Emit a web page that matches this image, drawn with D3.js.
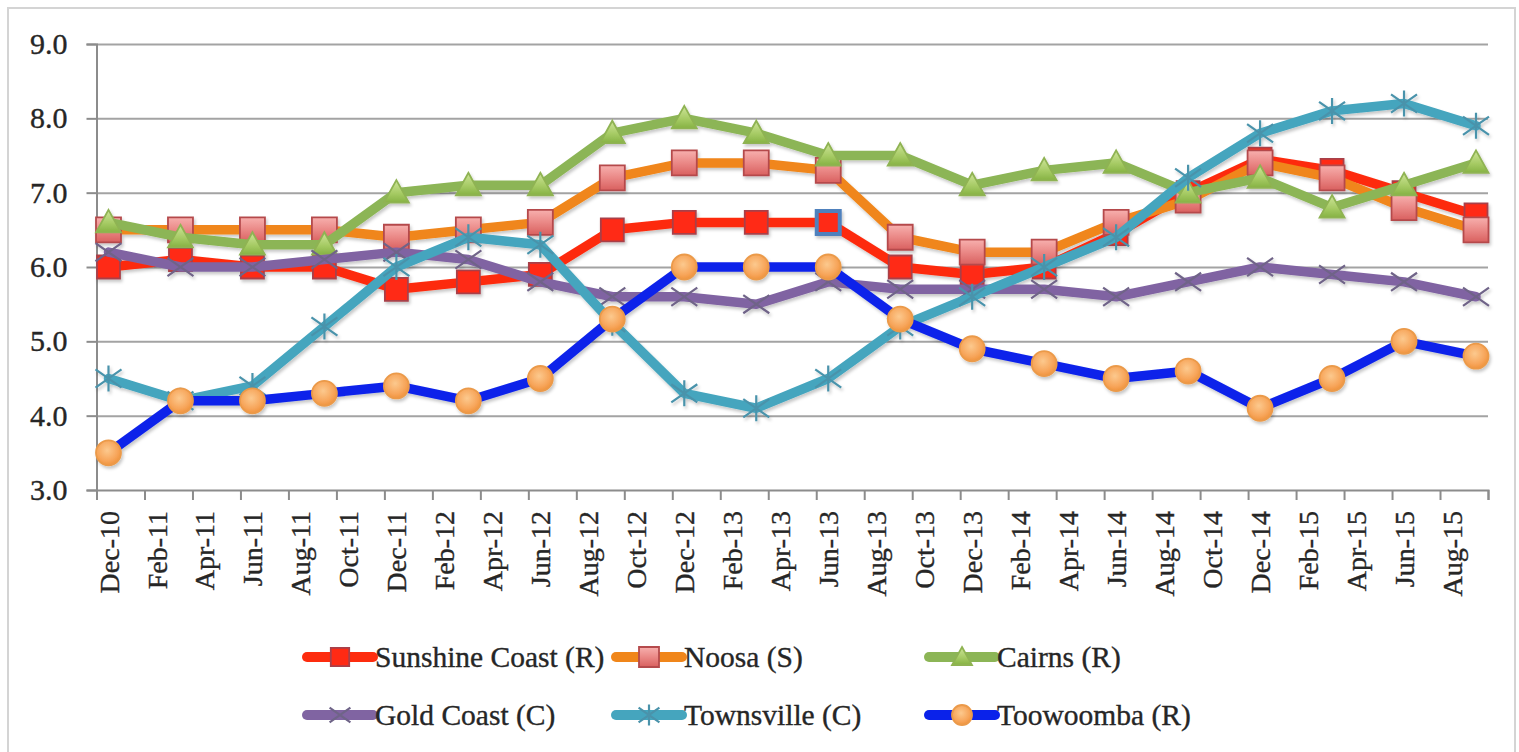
<!DOCTYPE html>
<html>
<head>
<meta charset="utf-8">
<script src="https://cdn.jsdelivr.net/npm/d3@7"></script>
<style>
  html, body { margin: 0; padding: 0; background: #ffffff; }
  svg { display: block; }
  text { font-family: "Liberation Serif", "Times New Roman", serif; fill: #262626; stroke: #262626; stroke-width: 0.35px; }
</style>
</head>
<body>
<svg id="chart" width="1519" height="752"></svg>
<script>
// Quarterly observation periods
const periods = ["Dec-10","Mar-11","Jun-11","Sep-11","Dec-11","Mar-12","Jun-12","Sep-12","Dec-12","Mar-13",
                 "Jun-13","Sep-13","Dec-13","Mar-14","Jun-14","Sep-14","Dec-14","Mar-15","Jun-15","Sep-15"];

// Axis labels, every second month
const tickLabels = ["Dec-10","Feb-11","Apr-11","Jun-11","Aug-11","Oct-11","Dec-11","Feb-12","Apr-12","Jun-12",
                    "Aug-12","Oct-12","Dec-12","Feb-13","Apr-13","Jun-13","Aug-13","Oct-13","Dec-13","Feb-14",
                    "Apr-14","Jun-14","Aug-14","Oct-14","Dec-14","Feb-15","Apr-15","Jun-15","Aug-15"];
const yTicks = [3, 4, 5, 6, 7, 8, 9];

// Series values
const sunshineCoast = [6.0, 6.1, 6.0, 6.0, 5.7, 5.8, 5.9, 6.5, 6.6, 6.6, 6.6, 6.0, 5.9, 6.0, 6.45, 7.0, 7.45, 7.3, 7.0, 6.7];
const noosa         = [6.5, 6.5, 6.5, 6.5, 6.4, 6.5, 6.6, 7.2, 7.4, 7.4, 7.3, 6.4, 6.2, 6.2, 6.6, 6.9, 7.4, 7.2, 6.8, 6.5];
const cairns        = [6.6, 6.4, 6.3, 6.3, 7.0, 7.1, 7.1, 7.8, 8.0, 7.8, 7.5, 7.5, 7.1, 7.3, 7.4, 7.0, 7.2, 6.8, 7.1, 7.4];
const goldCoast     = [6.2, 6.0, 6.0, 6.1, 6.2, 6.1, 5.8, 5.6, 5.6, 5.5, 5.8, 5.7, 5.7, 5.7, 5.6, 5.8, 6.0, 5.9, 5.8, 5.6];
const townsville    = [4.5, 4.2, 4.4, 5.2, 6.0, 6.4, 6.3, 5.25, 4.3, 4.1, 4.5, 5.2, 5.6, 6.0, 6.4, 7.2, 7.8, 8.1, 8.2, 7.9];
const toowoomba     = [3.5, 4.2, 4.2, 4.3, 4.4, 4.2, 4.5, 5.3, 6.0, 6.0, 6.0, 5.3, 4.9, 4.7, 4.5, 4.6, 4.1, 4.5, 5.0, 4.8];

const seriesNames = ["Sunshine Coast (R)", "Noosa (S)", "Cairns (R)", "Gold Coast (C)", "Townsville (C)", "Toowoomba (R)"];
const seriesValues = [sunshineCoast, noosa, cairns, goldCoast, townsville, toowoomba];

// Styling per series
const styles = [
  { line: "#fd2c0e", marker: "square",   fill: "#ff2a14",          stroke: "#a8404a", size: 23 },
  { line: "#f0861a", marker: "square",   fill: "url(#gPink)",      stroke: "#b54a4c", size: 25 },
  { line: "#8cb556", marker: "triangle", fill: "url(#gGreen)",     stroke: "#8fb352", size: 25 },
  { line: "#8064a2", marker: "x",        fill: "none",             stroke: "#6f6488", size: 26 },
  { line: "#45a5be", marker: "star",     fill: "none",             stroke: "#4a93ab", size: 26 },
  { line: "#0a22ea", marker: "circle",   fill: "url(#gOrange)",    stroke: "#eb9a4a", size: 25 }
];

const W = 1519, H = 752;
const plot = { left: 96.5, right: 1488, top: 44, bottom: 490 };
const firstMonth = d3.timeParse("%b-%y")("Dec-10");
const monthIndex = s => {
  const t = d3.timeParse("%b-%y")(s);
  return (t.getFullYear() - firstMonth.getFullYear()) * 12 + t.getMonth() - firstMonth.getMonth();
};
const totalMonths = monthIndex("Sep-15") + 1;

const x = d3.scaleLinear().domain([0, totalMonths]).range([plot.left, plot.right]);
const y = d3.scaleLinear().domain([3, 9]).range([plot.bottom, plot.top]);

const svg = d3.select("#chart");
const defs = svg.append("defs");

const shadow = defs.append("filter").attr("id", "shadow")
  .attr("x", "-5%").attr("y", "-20%").attr("width", "110%").attr("height", "140%");
shadow.append("feDropShadow").attr("dx", 1.5).attr("dy", 2.5).attr("stdDeviation", 1.8)
  .attr("flood-color", "#000").attr("flood-opacity", 0.22);

function linGrad(id, stops) {
  const g = defs.append("linearGradient").attr("id", id).attr("x1", 0).attr("y1", 0).attr("x2", 0).attr("y2", 1);
  stops.forEach(([o, c]) => g.append("stop").attr("offset", o).attr("stop-color", c));
}
linGrad("gPink", [[0, "#f7b0ae"], [0.5, "#ea8886"], [1, "#d9605f"]]);
linGrad("gGreen", [[0, "#cfe59a"], [0.6, "#a5ca63"], [1, "#86b244"]]);
const rg = defs.append("radialGradient").attr("id", "gOrange").attr("cx", "45%").attr("cy", "40%").attr("r", "60%");
rg.append("stop").attr("offset", 0).attr("stop-color", "#fcc98e");
rg.append("stop").attr("offset", 0.7).attr("stop-color", "#f7a55a");
rg.append("stop").attr("offset", 1).attr("stop-color", "#f0943e");

// Outer chart border
svg.append("rect").attr("x", 8).attr("y", 8).attr("width", 1507).attr("height", H + 20)
  .attr("fill", "none").attr("stroke", "#d4d4d4").attr("stroke-width", 2);

// Horizontal gridlines
svg.append("g")
  .attr("transform", `translate(${plot.left},0)`)
  .call(d3.axisLeft(y).tickValues(yTicks.slice(1)).tickSize(-(plot.right - plot.left)).tickFormat(""))
  .call(g => g.select(".domain").remove())
  .call(g => g.selectAll("line").attr("stroke", "#a3a3a3").attr("stroke-width", 2));

// Y axis
svg.append("g")
  .attr("transform", `translate(${plot.left},0)`)
  .call(d3.axisLeft(y).tickValues(yTicks).tickSize(10).tickPadding(19).tickFormat(d3.format(".1f")))
  .call(g => g.select(".domain").attr("stroke", "#8c8c8c").attr("stroke-width", 2))
  .call(g => g.selectAll("line").attr("stroke", "#8c8c8c").attr("stroke-width", 2))
  .call(g => g.selectAll("text").attr("font-family", "Liberation Serif").attr("font-size", 30).attr("fill", "#262626"));

// X axis tick marks every two months
svg.append("g")
  .attr("transform", `translate(0,${plot.bottom})`)
  .call(d3.axisBottom(x).tickValues(d3.range(0, totalMonths + 1, 2)).tickSize(10).tickFormat(""))
  .call(g => g.select(".domain").attr("stroke", "#8c8c8c").attr("stroke-width", 2))
  .call(g => g.selectAll("line").attr("stroke", "#8c8c8c").attr("stroke-width", 2));

// X axis labels at month centres, rotated
const labelPos = tickLabels.map(s => monthIndex(s) + 0.5);
svg.append("g")
  .attr("transform", `translate(0,${plot.bottom})`)
  .call(d3.axisBottom(x).tickValues(labelPos).tickSize(0)
        .tickFormat((d, i) => tickLabels[i]))
  .call(g => g.select(".domain").remove())
  .call(g => g.selectAll("text")
    .attr("font-family", "Liberation Serif").attr("font-size", 28).attr("fill", "#262626")
    .attr("text-anchor", "end")
    .attr("transform", "rotate(-90)")
    .attr("x", -21).attr("y", 0).attr("dy", "0.34em"));

// Marker shapes
function markerPath(kind, s) {
  const h = s / 2;
  switch (kind) {
    case "square": return `M${-h},${-h}H${h}V${h}H${-h}Z`;
    case "triangle": return `M0,${-h}L${h},${h * 0.8}L${-h},${h * 0.8}Z`;
    case "circle": return d3.arc()({ innerRadius: 0, outerRadius: h, startAngle: 0, endAngle: 2 * Math.PI });
    case "x": return `M${-h},${-h * 0.7}L${h},${h * 0.7}M${-h},${h * 0.7}L${h},${-h * 0.7}`;
    case "star": return `M${-h},${-h * 0.7}L${h},${h * 0.7}M${-h},${h * 0.7}L${h},${-h * 0.7}M0,${-h}V${h}`;
  }
}

function drawMarker(sel, st, size) {
  sel.append("path")
    .attr("d", markerPath(st.marker, size))
    .attr("fill", st.fill)
    .attr("stroke", st.stroke)
    .attr("stroke-width", (st.marker === "x" || st.marker === "star") ? 2.2 : 1.8);
}

const line = d3.line()
  .x(d => x(d.m + 0.5))
  .y(d => y(d.v));

const series = seriesNames.map((name, k) => ({
  name,
  style: styles[k],
  points: periods.map((p, i) => ({ m: monthIndex(p), v: seriesValues[k][i], period: p }))
}));

const plotG = svg.append("g").attr("filter", "url(#shadow)");
series.forEach(s => {
  const g = plotG.append("g");
  g.append("path")
    .attr("d", line(s.points))
    .attr("fill", "none")
    .attr("stroke", s.style.line)
    .attr("stroke-width", 9.5)
    .attr("stroke-linejoin", "round")
    .attr("stroke-linecap", "round");
  g.selectAll(".m").data(s.points).join("g")
    .attr("transform", d => `translate(${x(d.m + 0.5)},${y(d.v)})`)
    .each(function (d) {
      const st = (s.name === "Sunshine Coast (R)" && d.period === "Jun-13")
        ? Object.assign({}, s.style, { stroke: "#4f81bd" }) : s.style;
      drawMarker(d3.select(this), st, s.style.size);
      if (st.stroke === "#4f81bd") d3.select(this).select("path").attr("stroke-width", 4);
    });
});

// Legend
const legendCols = [307, 616, 929];
const legendRows = [657, 715];
const legend = svg.append("g");
series.forEach((s, k) => {
  const lx = legendCols[k % 3], ly = legendRows[Math.floor(k / 3)];
  const g = legend.append("g").attr("transform", `translate(${lx},${ly})`);
  g.append("line").attr("x1", 0).attr("x2", 66).attr("y1", 0).attr("y2", 0)
    .attr("stroke", s.style.line).attr("stroke-width", 10).attr("stroke-linecap", "round");
  const mg = g.append("g").attr("transform", "translate(33,0)");
  drawMarker(mg, s.style, s.style.size * 0.8);
  g.append("text").attr("x", 68).attr("y", 0).attr("dy", "0.34em")
    .attr("font-size", 29.5).text(s.name);
});
</script>
</body>
</html>
